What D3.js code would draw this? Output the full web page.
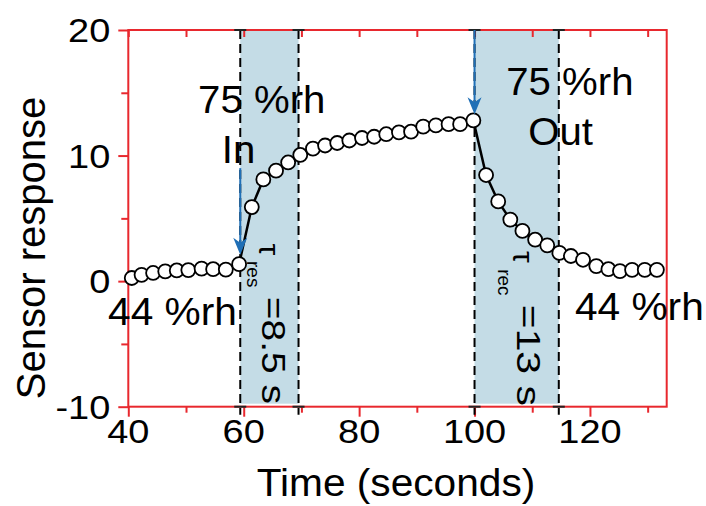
<!DOCTYPE html>
<html>
<head>
<meta charset="utf-8">
<script src="https://cdn.jsdelivr.net/npm/d3@7"></script>
<style>
  body { margin: 0; background: #fff; }
  text { font-family: "Liberation Sans", Arial, sans-serif; fill: #000; }
</style>
</head>
<body>
<script>
// time (s) and sensor response
const times = [
  40.6, 42.3, 44.3, 46.4, 48.4, 50.4, 52.7, 54.7, 56.9, 59.2,
  61.4, 63.4, 65.6, 67.7, 69.8, 72.0, 74.1, 76.2, 78.3, 80.5,
  82.6, 84.7, 86.9, 89.0, 91.1, 93.3, 95.5, 97.5, 99.8,
  102.0, 104.1, 106.2, 108.3, 110.5, 112.6, 114.7, 116.7, 118.8,
  121.1, 123.2, 125.2, 127.3, 129.5, 131.6
];
const response = [
  0.25, 0.5, 0.65, 0.78, 0.85, 0.88, 1.0, 0.95, 0.92, 1.35,
  5.9, 8.1, 8.8, 9.45, 10.05, 10.55, 10.8, 11.0, 11.2, 11.4,
  11.5, 11.7, 11.85, 11.9, 12.3, 12.4, 12.5, 12.5, 12.8,
  8.45, 6.35, 4.9, 4.0, 3.3, 2.85, 2.25, 2.0, 1.7,
  1.2, 0.95, 0.8, 0.9, 0.9, 0.9
];

// shaded response / recovery windows (s)
const windows = [[59.4, 69.5], [100, 114.6]];

const xMajor = [40, 60, 80, 100, 120];
const xMinor = [50, 70, 90, 110, 130];
const yMajor = [-10, 0, 10, 20];
const yMinor = [-5, 5, 15];

const W = 706, H = 506;
const pLeft = 128.3, pRight = 666.7, pTop = 30, pBottom = 406.7;
const red = '#e8282e';

const svg = d3.select('body').append('svg')
  .attr('width', W)
  .attr('height', H);

const x = d3.scaleLinear().domain([40, 133.3]).range([pLeft, pRight]);
const y = d3.scaleLinear().domain([-10, 20]).range([pBottom, pTop]);

// text helper, fonts in the picture are a bit wide
const label = (px, py, str, size, sx, anchor, rot) =>
  svg.append('text')
    .attr('transform', `translate(${px},${py}) rotate(${rot || 0}) scale(${sx},1)`)
    .attr('text-anchor', anchor)
    .style('font-size', size + 'px')
    .text(str);

// shaded windows
svg.selectAll('rect.win')
  .data(windows)
  .enter()
  .append('rect')
  .attr('class', 'win')
  .attr('x', d => x(d[0]))
  .attr('y', pTop)
  .attr('width', d => x(d[1]) - x(d[0]))
  .attr('height', pBottom - pTop - 3)
  .attr('fill', '#c4dce6');

// axes (ticks only, the frame is drawn after)
const tickStyle = g => {
  g.select('.domain').remove();
  g.selectAll('line').attr('stroke', red).attr('stroke-width', 2);
};

svg.append('g').attr('transform', `translate(0,${pBottom})`)
  .call(d3.axisBottom(x).tickValues(xMajor).tickSize(10).tickFormat(''))
  .call(tickStyle);
svg.append('g').attr('transform', `translate(0,${pBottom})`)
  .call(d3.axisBottom(x).tickValues(xMinor).tickSize(6).tickFormat(''))
  .call(tickStyle);
svg.append('g').attr('transform', `translate(0,${pTop})`)
  .call(d3.axisTop(x).tickValues(xMajor.concat(xMinor)).tickSize(-7).tickFormat(''))
  .call(tickStyle);
svg.append('g').attr('transform', `translate(${pLeft},0)`)
  .call(d3.axisLeft(y).tickValues(yMajor).tickSize(10).tickFormat(''))
  .call(tickStyle);
svg.append('g').attr('transform', `translate(${pLeft},0)`)
  .call(d3.axisLeft(y).tickValues(yMinor).tickSize(7).tickFormat(''))
  .call(tickStyle);

svg.append('rect')
  .attr('x', pLeft)
  .attr('y', pTop)
  .attr('width', pRight - pLeft)
  .attr('height', pBottom - pTop)
  .attr('fill', 'none')
  .attr('stroke', red)
  .attr('stroke-width', 2);

// dashed window edges
const edges = windows.flat();
svg.selectAll('line.edge')
  .data(edges)
  .enter()
  .append('line')
  .attr('class', 'edge')
  .attr('x1', d => x(d))
  .attr('x2', d => x(d))
  .attr('y1', pTop)
  .attr('y2', pBottom + 8)
  .attr('stroke', '#000')
  .attr('stroke-width', 2)
  .attr('stroke-dasharray', '9,5');
[pTop, pBottom].forEach(yy => {
  svg.selectAll(null)
    .data(edges)
    .enter()
    .append('line')
    .attr('x1', d => x(d) - 6)
    .attr('x2', d => x(d) + 6)
    .attr('y1', yy)
    .attr('y2', yy)
    .attr('stroke', '#222')
    .attr('stroke-width', 2);
});

// tick labels
xMajor.forEach(d => label(x(d), 443, d, 33, 1.15, 'middle'));
yMajor.forEach(d => label(pLeft - 18, y(d) + 12, d, 33, 1.15, 'end'));

// axis titles
label(396, 496, 'Time (seconds)', 38, 1.07, 'middle');
label(45, 248, 'Sensor response', 40, 1, 'middle', -90);

// data line and markers
const pts = times.map((t, i) => [t, response[i]]);
svg.append('path')
  .datum(pts)
  .attr('fill', 'none')
  .attr('stroke', '#000')
  .attr('stroke-width', 2.5)
  .attr('d', d3.line().x(d => x(d[0])).y(d => y(d[1])));

svg.selectAll('circle')
  .data(pts)
  .enter()
  .append('circle')
  .attr('cx', d => x(d[0]))
  .attr('cy', d => y(d[1]))
  .attr('r', 7)
  .attr('fill', '#fff')
  .attr('stroke', '#000')
  .attr('stroke-width', 1.8);

// gas in / out arrows
const arrows = [[59.4, 9.0, 2.1], [100, 20, 13.3]];
arrows.forEach(([t, v0, v1]) => {
  const ax = x(t), ay0 = y(v0), ay1 = y(v1);
  svg.append('line')
    .attr('x1', ax).attr('x2', ax)
    .attr('y1', ay0).attr('y2', ay1 - 10)
    .attr('stroke', '#1f6fb6')
    .attr('stroke-width', 2);
  svg.append('path')
    .attr('d', `M${ax},${ay1} L${ax - 7},${ay1 - 17} L${ax},${ay1 - 12} L${ax + 7},${ay1 - 17} Z`)
    .attr('fill', '#1f6fb6');
});

// annotations
label(x(52.1), y(13.4), '75 %rh', 39, 1.03, 'start');
label(x(56.2), y(9.4), 'In', 39, 1.03, 'start');
label(x(105.5), y(14.8), '75 %rh', 39, 1.03, 'start');
label(x(109.3), y(10.85), 'Out', 39, 1.03, 'start');
label(x(36.5), y(-3.5), '44 %rh', 38, 1.07, 'start');
label(x(117.4), y(-3.1), '44 %rh', 38, 1.07, 'start');

label(x(62.6), y(3.0), 'τ', 30, 1, 'start', 90);
label(x(60.5), y(1.6), 'res', 19, 1, 'start', 90);
label(x(63.2), y(-1.25), '=8.5 s', 33, 1.18, 'start', 90);

label(x(106.6), y(2.4), 'τ', 30, 1, 'start', 90);
label(x(104.0), y(0.95), 'rec', 19, 1, 'start', 90);
label(x(107.3), y(-1.89), '=13 s', 34, 1.2, 'start', 90);
</script>
</body>
</html>
